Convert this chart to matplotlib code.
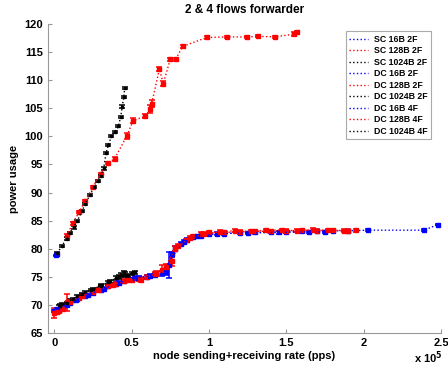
import matplotlib
matplotlib.use("Agg")
import matplotlib.pyplot as plt

plt.rcParams['font.family'] = ['Liberation Sans', 'DejaVu Sans']
plt.rcParams['font.weight'] = 'bold'

# ---- data (x in units of 1e5 pps) ----
sc16_2f_x = [0.0, 0.05, 0.1, 0.15, 0.2, 0.25, 0.3, 0.35, 0.4, 0.45, 0.5, 0.55, 0.6, 0.65, 0.7, 0.74, 0.78, 0.82, 0.86, 0.9, 0.95, 1.0, 1.1, 1.2, 1.3, 1.4, 1.5, 1.6, 1.7, 1.8, 1.9, 2.03, 2.39, 2.48]
sc16_2f_y = [68.9, 69.5, 70.4, 71.0, 71.6, 72.1, 72.7, 73.3, 73.8, 74.2, 74.6, 74.8, 75.0, 75.3, 75.6, 77.1, 80.0, 80.9, 81.6, 82.0, 82.3, 82.6, 82.7, 82.8, 82.9, 83.0, 83.0, 83.1, 83.1, 83.2, 83.2, 83.3, 83.3, 84.3]
sc16_2f_e = [0.2, 0.2, 0.2, 0.2, 0.2, 0.2, 0.2, 0.2, 0.2, 0.2, 0.2, 0.3, 0.3, 0.3, 0.4, 2.3, 0.4, 0.3, 0.3, 0.3, 0.2, 0.2, 0.2, 0.2, 0.2, 0.2, 0.2, 0.2, 0.2, 0.2, 0.2, 0.2, 0.2, 0.1]

sc128_2f_x = [0.0, 0.03, 0.06, 0.08, 0.12, 0.16, 0.2, 0.25, 0.3, 0.35, 0.4, 0.45, 0.5, 0.55, 0.6, 0.65, 0.7, 0.76, 0.8, 0.85, 0.9, 0.95, 1.0, 1.1, 1.2, 1.3, 1.4, 1.5, 1.6, 1.7, 1.8, 1.9, 1.95]
sc128_2f_y = [68.5, 69.0, 69.3, 70.5, 70.8, 71.2, 71.7, 72.3, 72.8, 73.3, 73.8, 74.3, 74.4, 74.6, 75.0, 75.5, 76.3, 77.8, 80.5, 81.5, 82.2, 82.6, 82.9, 82.9, 83.0, 83.1, 83.1, 83.2, 83.3, 83.2, 83.3, 83.2, 83.3]
sc128_2f_e = [0.9, 0.3, 0.3, 1.5, 0.3, 0.3, 0.3, 0.3, 0.3, 0.3, 0.3, 0.4, 0.3, 0.3, 0.3, 0.4, 0.8, 0.8, 0.4, 0.3, 0.3, 0.3, 0.3, 0.3, 0.3, 0.3, 0.3, 0.3, 0.3, 0.3, 0.3, 0.3, 0.3]

sc1024_2f_x = [0.03, 0.05, 0.1, 0.15, 0.2, 0.25, 0.3, 0.35, 0.4, 0.43, 0.45, 0.48, 0.52]
sc1024_2f_y = [69.6, 70.1, 70.8, 71.5, 72.2, 72.8, 73.5, 74.0, 74.8, 75.3, 75.6, 75.2, 75.8]
sc1024_2f_e = [0.4, 0.3, 0.2, 0.2, 0.2, 0.2, 0.2, 0.2, 0.3, 0.3, 0.4, 0.3, 0.3]

dc16_2f_x = [0.02, 0.08, 0.14, 0.22, 0.32, 0.42, 0.52, 0.62, 0.72, 0.76, 0.84, 0.92, 1.05, 1.25, 1.45, 1.65, 1.75]
dc16_2f_y = [69.2, 70.0, 70.8, 71.8, 72.9, 73.9, 74.8, 75.2, 75.9, 79.0, 81.2, 82.2, 82.7, 82.8, 82.9, 83.0, 83.0]
dc16_2f_e = [0.2, 0.2, 0.2, 0.2, 0.2, 0.3, 0.3, 0.3, 0.5, 0.5, 0.3, 0.3, 0.2, 0.2, 0.2, 0.2, 0.2]

dc128_2f_x = [0.02, 0.1, 0.18, 0.28, 0.38, 0.48, 0.56, 0.66, 0.72, 0.78, 0.88, 0.97, 1.07, 1.17, 1.27, 1.37, 1.47, 1.57, 1.67, 1.77, 1.87]
dc128_2f_y = [68.8, 70.6, 71.6, 72.7, 73.6, 74.4, 74.5, 75.6, 76.8, 80.0, 81.9, 82.6, 83.0, 83.2, 83.1, 83.3, 83.3, 83.2, 83.4, 83.3, 83.2]
dc128_2f_e = [0.4, 0.3, 0.3, 0.3, 0.3, 0.3, 0.4, 0.4, 0.5, 0.4, 0.3, 0.3, 0.3, 0.3, 0.3, 0.3, 0.3, 0.3, 0.3, 0.3, 0.3]

dc1024_2f_x = [0.04, 0.08, 0.12, 0.18, 0.24, 0.3, 0.36, 0.42, 0.46, 0.5]
dc1024_2f_y = [69.8, 70.4, 71.0, 71.9, 72.7, 73.4, 74.2, 75.0, 75.4, 75.6]
dc1024_2f_e = [0.3, 0.2, 0.2, 0.2, 0.2, 0.2, 0.3, 0.3, 0.4, 0.3]

dc16_4f_x = [0.01, 0.02]
dc16_4f_y = [78.8, 79.1]
dc16_4f_e = [0.1, 0.1]

dc128_4f_x = [0.08, 0.12, 0.16, 0.2, 0.25, 0.3, 0.35, 0.39, 0.47, 0.51, 0.59, 0.62, 0.63, 0.68, 0.705, 0.75, 0.785, 0.83, 0.985, 1.12, 1.245, 1.32, 1.43, 1.55, 1.57]
dc128_4f_y = [82.3, 84.5, 86.5, 88.5, 91.0, 93.3, 95.3, 96.0, 100.1, 102.8, 103.6, 104.8, 105.8, 112.0, 109.4, 113.7, 113.7, 116.0, 117.6, 117.7, 117.7, 117.8, 117.7, 118.2, 118.5]
dc128_4f_e = [0.3, 0.2, 0.2, 0.2, 0.2, 0.2, 0.2, 0.3, 0.5, 0.5, 0.3, 0.7, 0.6, 0.4, 0.4, 0.3, 0.3, 0.3, 0.2, 0.2, 0.2, 0.2, 0.2, 0.3, 0.3]

dc1024_4f_x = [0.02, 0.05, 0.08, 0.1, 0.125, 0.15, 0.18, 0.2, 0.23, 0.26, 0.28, 0.3, 0.32, 0.335, 0.35, 0.37, 0.39, 0.415, 0.43, 0.44, 0.45, 0.455]
dc1024_4f_y = [79.2, 80.5, 81.8, 82.8, 83.8, 85.0, 86.7, 88.0, 89.5, 91.0, 92.0, 93.0, 94.3, 97.0, 98.5, 100.0, 100.8, 101.8, 103.5, 105.3, 107.0, 108.6]
dc1024_4f_e = [0.2] * 22

labels = ['SC 16B 2F', 'SC 128B 2F', 'SC 1024B 2F', 'DC 16B 2F', 'DC 128B 2F',
          'DC 1024B 2F', 'DC 16B 4F', 'DC 128B 4F', 'DC 1024B 4F']
series = [
    (sc16_2f_x, sc16_2f_y, sc16_2f_e),
    (sc128_2f_x, sc128_2f_y, sc128_2f_e),
    (sc1024_2f_x, sc1024_2f_y, sc1024_2f_e),
    (dc16_2f_x, dc16_2f_y, dc16_2f_e),
    (dc128_2f_x, dc128_2f_y, dc128_2f_e),
    (dc1024_2f_x, dc1024_2f_y, dc1024_2f_e),
    (dc16_4f_x, dc16_4f_y, dc16_4f_e),
    (dc128_4f_x, dc128_4f_y, dc128_4f_e),
    (dc1024_4f_x, dc1024_4f_y, dc1024_4f_e),
]
colors = ['#0000ff', '#ff0000', '#000000'] * 3
msizes = [2.5, 2.5, 1.6] * 3

fig = plt.figure(figsize=(4.48, 3.72), dpi=100)
ax = fig.add_axes([48 / 448, 1 - 333 / 372, (441 - 48) / 448, (333 - 24) / 372])

handles = []
for (x, y, e), c, ms, lab in zip(series, colors, msizes, labels):
    ax.errorbar(x, y, yerr=e, color=c, linestyle=':', linewidth=1.0,
                marker='s', markersize=ms, elinewidth=1.1, capsize=2.2,
                capthick=1.1, label=lab)
    h, = ax.plot([], [], color=c, linestyle=':', linewidth=1.0)
    handles.append(h)

ax.set_xlim(-0.04, 2.5)
ax.set_ylim(65, 120)
ax.set_xticks([0, 0.5, 1, 1.5, 2, 2.5])
ax.set_xticklabels(['0', '0.5', '1', '1.5', '2', '2.5'])
ax.set_yticks(range(65, 121, 5))
for s in ['top', 'right']:
    ax.spines[s].set_visible(False)
for s in ['left', 'bottom']:
    ax.spines[s].set_color('#999999')
ax.tick_params(direction='in', length=3, colors='#999999', labelcolor='black', labelsize=8)
for t in ax.get_xticklabels() + ax.get_yticklabels():
    t.set_fontweight('bold')

ax.set_title('2 & 4 flows forwarder', fontsize=8.5, fontweight='bold', pad=8)
ax.set_xlabel('node sending+receiving rate (pps)', fontsize=8, fontweight='bold', labelpad=2)
ax.set_ylabel('power usage', fontsize=8, fontweight='bold', labelpad=4)
fig.text(0.925, 0.015, r'x 10$^5$', fontsize=8, fontweight='bold', ha='left', va='bottom')

leg = ax.legend(handles, labels, loc='upper right', bbox_to_anchor=(0.985, 0.99),
                fontsize=6.3, handlelength=2.2, handletextpad=0.6, labelspacing=0.28,
                borderpad=0.4, frameon=True, fancybox=False, framealpha=1)
leg.get_frame().set_edgecolor('#aaaaaa')
leg.get_frame().set_linewidth(0.8)
for t in leg.get_texts():
    t.set_fontweight('bold')

fig.savefig('out.png', dpi=100)
